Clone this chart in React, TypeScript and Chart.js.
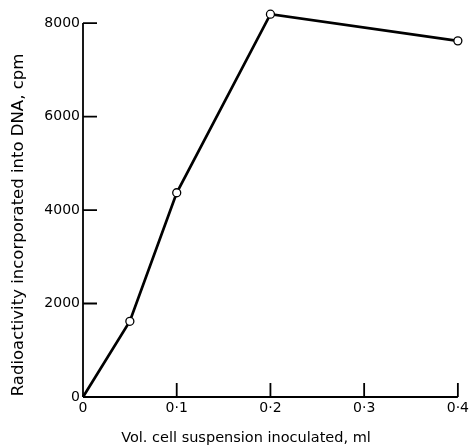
import React, { useEffect, useRef } from "react";
import { Chart, registerables } from "chart.js";

Chart.register(...registerables);

const volumes = [0, 0.05, 0.1, 0.2, 0.4];
const radioactivity = [0, 1620, 4370, 8190, 7620];
const xTickValues = [0, 0.1, 0.2, 0.3, 0.4];
const yTickValues = [0, 2000, 4000, 6000, 8000];
const xTitle = "Vol. cell suspension inoculated, ml";
const yTitle = "Radioactivity incorporated into DNA, cpm";

const FONT = "'DejaVu Sans', 'Liberation Sans', sans-serif";

const axesPlugin = {
  id: "axesPlugin",
  afterDatasetsDraw(chart: any) {
    const { ctx } = chart;
    const xs = chart.scales.x;
    const ys = chart.scales.y;
    const x0 = xs.getPixelForValue(0);
    const y0 = ys.getPixelForValue(0);
    ctx.save();
    ctx.strokeStyle = "#000";
    ctx.lineWidth = 1.8;
    ctx.beginPath();
    ctx.moveTo(x0, y0);
    ctx.lineTo(x0, ys.getPixelForValue(yTickValues[yTickValues.length - 1]));
    ctx.moveTo(x0, y0);
    ctx.lineTo(xs.getPixelForValue(xTickValues[xTickValues.length - 1]), y0);
    xTickValues.forEach((v) => {
      if (v === 0) return;
      const px = xs.getPixelForValue(v);
      ctx.moveTo(px, y0);
      ctx.lineTo(px, y0 - 14);
    });
    yTickValues.forEach((v) => {
      if (v === 0) return;
      const py = ys.getPixelForValue(v);
      ctx.moveTo(x0, py);
      ctx.lineTo(x0 + 14, py);
    });
    ctx.stroke();

    ctx.fillStyle = "#000";
    ctx.textAlign = "center";
    ctx.textBaseline = "middle";
    ctx.font = "14.5px " + FONT;
    ctx.fillText(xTitle, chart.chartArea.left + 163, 438);
    ctx.font = "16.5px " + FONT;
    ctx.translate(19, 225);
    ctx.rotate(-Math.PI / 2);
    ctx.fillText(yTitle, 0, 0);
    ctx.restore();
  },
};

export default function App() {
  const ref = useRef<HTMLCanvasElement>(null);
  useEffect(() => {
    document.body.style.margin = "0";
    const canvas = ref.current!;
    const chart = new Chart(canvas, {
      type: "scatter",
      data: {
        datasets: [
          {
            data: volumes.map((v, i) => ({ x: v, y: radioactivity[i] })),
            showLine: true,
            borderColor: "#000",
            borderWidth: 2.7,
            pointRadius: [0, 4, 4, 4, 4],
            pointBackgroundColor: "#fff",
            pointBorderColor: "#000",
            pointBorderWidth: 1.3,
            clip: false as any,
          },
        ],
      },
      plugins: [axesPlugin],
      options: {
        responsive: false,
        animation: false,
        devicePixelRatio: 1,
        layout: { padding: { left: 0, right: 14, top: 11, bottom: 0 } },
        plugins: { legend: { display: false }, tooltip: { enabled: false } },
        scales: {
          x: {
            type: "linear",
            min: 0,
            max: 0.4,
            afterBuildTicks: (s: any) => {
              s.ticks = xTickValues.map((v) => ({ value: v }));
            },
            afterFit: (s: any) => {
              s.height = 51;
            },
            grid: { display: false, drawTicks: false },
            border: { display: false },
            ticks: {
              padding: 3,
              color: "#000",
              font: { family: FONT, size: 14 },
              callback: (v: any) =>
                Number(v) === 0 ? "0" : Number(v).toFixed(1).replace(".", "·"),
            },
          },
          y: {
            type: "linear",
            min: 0,
            max: 8250,
            afterBuildTicks: (s: any) => {
              s.ticks = yTickValues.map((v) => ({ value: v }));
            },
            afterFit: (s: any) => {
              s.width = 83;
            },
            grid: { display: false, drawTicks: false },
            border: { display: false },
            ticks: {
              padding: 3,
              color: "#000",
              font: { family: FONT, size: 14 },
              callback: (v: any) => String(v),
            },
          },
        },
      },
    });
    return () => chart.destroy();
  }, []);
  return (
    <div style={{ width: 472, height: 448 }}>
      <canvas ref={ref} width={472} height={448} />
    </div>
  );
}
